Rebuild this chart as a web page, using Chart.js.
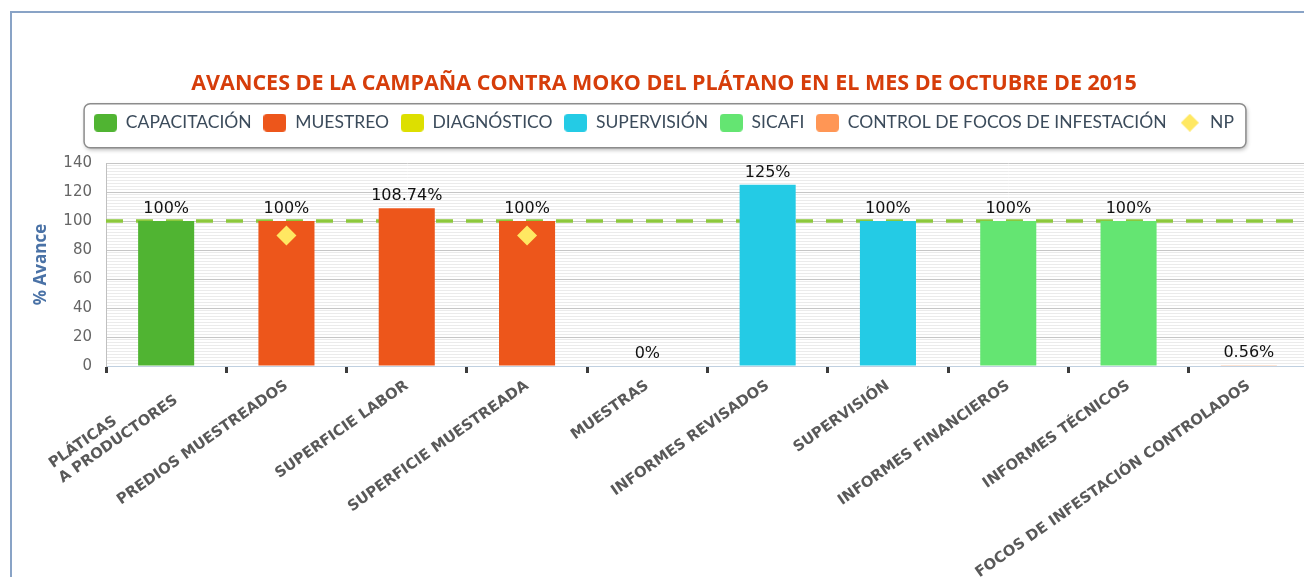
<!DOCTYPE html>
<html lang="es">
<head>
  <meta charset="UTF-8">
  <title>Avances de la campaña contra Moko del plátano</title>
  <script src="https://cdn.jsdelivr.net/npm/chart.js"></script>
  <style>
    html, body { margin: 0; padding: 0; overflow: hidden; background: #fff; }
    #frame { position: absolute; left: 10px; top: 11px; width: 2000px; height: 2000px;
             border-left: 2px solid #89a3c6; border-top: 2px solid #89a3c6; box-sizing: border-box; }
    #wrap { position: absolute; left: 0; top: 0; width: 1328px; height: 577px; }
  </style>
</head>
<body>
  <div id="frame"></div>
  <div id="wrap"><canvas id="avanceChart"></canvas></div>

  <script>
    const categories = [
      ['PLÁTICAS', 'A PRODUCTORES'],
      'PREDIOS MUESTREADOS',
      'SUPERFICIE LABOR',
      'SUPERFICIE MUESTREADA',
      'MUESTRAS',
      'INFORMES REVISADOS',
      'SUPERVISIÓN',
      'INFORMES FINANCIEROS',
      'INFORMES TÉCNICOS',
      'FOCOS DE INFESTACIÓN CONTROLADOS'
    ];

    const capacitacion = [100, null, null, null, null, null, null, null, null, null];
    const muestreo     = [null, 100, 108.74, 100, null, null, null, null, null, null];
    const diagnostico  = [null, null, null, null, 0, null, null, null, null, null];
    const supervision  = [null, null, null, null, null, 125, 100, null, null, null];
    const sicafi       = [null, null, null, null, null, null, null, 100, 100, null];
    const controlFocos = [null, null, null, null, null, null, null, null, null, 0.56];
    const np           = [null, 90, null, 90, null, null, null, null, null, null];
    const meta = 100;

    const seriesNames  = ['CAPACITACIÓN', 'MUESTREO', 'DIAGNÓSTICO', 'SUPERVISIÓN', 'SICAFI', 'CONTROL DE FOCOS DE INFESTACIÓN'];
    const seriesData   = [capacitacion, muestreo, diagnostico, supervision, sicafi, controlFocos];
    const seriesColors = ['#50b432', '#ed561b', '#dddf00', '#24cbe5', '#64e572', '#ff9655'];
    const npColor = '#ffe862';

    const xFont = { family: 'DejaVu Sans', size: 14.8, weight: 'bold' };

    // legend symbols drawn as small canvases so they can be rounded boxes / diamond
    function legendBox(color) {
      const c = document.createElement('canvas');
      c.width = 23; c.height = 18;
      const g = c.getContext('2d');
      g.fillStyle = color;
      g.beginPath();
      g.roundRect(0, 0, 23, 18, 4);
      g.fill();
      return c;
    }
    function legendDiamond(color) {
      const c = document.createElement('canvas');
      c.width = 18; c.height = 18;
      const g = c.getContext('2d');
      g.fillStyle = color;
      g.beginPath();
      g.moveTo(9, 0); g.lineTo(18, 9); g.lineTo(9, 18); g.lineTo(0, 9);
      g.closePath();
      g.fill();
      return c;
    }

    // multi-line category labels are left aligned in the original: pad short lines with spaces
    const measurer = document.createElement('canvas').getContext('2d');
    function leftAlignLines(label) {
      if (!Array.isArray(label)) return label;
      measurer.font = `bold ${xFont.size}px "${xFont.family}"`;
      const widest = Math.max(...label.map(s => measurer.measureText(s).width));
      return label.map(s => {
        let t = s;
        while (measurer.measureText(t + ' ').width <= widest + 1) t += ' ';
        return t;
      });
    }

    const datasets = seriesNames.map((name, i) => ({
      label: name,
      data: seriesData[i],
      backgroundColor: seriesColors[i],
      borderWidth: 0,
      grouped: false,
      categoryPercentage: 1,
      barPercentage: 0.466,
      legendSymbol: legendBox(seriesColors[i])
    }));
    datasets.push({
      type: 'line',
      label: 'NP',
      data: np,
      showLine: false,
      pointStyle: 'rectRot',
      pointRadius: 10,
      pointHoverRadius: 10,
      pointBorderWidth: 0,
      backgroundColor: npColor,
      borderColor: npColor,
      order: -1,
      legendSymbol: legendDiamond(npColor)
    });

    const metaLine = {
      id: 'metaLine',
      beforeDatasetsDraw(chart) {
        const {ctx, chartArea} = chart;
        const y = chart.scales.y.getPixelForValue(meta);
        ctx.save();
        ctx.strokeStyle = '#8cc83c';
        ctx.lineWidth = 3.5;
        ctx.setLineDash([17, 13]);
        ctx.beginPath();
        ctx.moveTo(chartArea.left, y);
        ctx.lineTo(chartArea.right, y);
        ctx.stroke();
        ctx.restore();
      }
    };

    const valueLabels = {
      id: 'valueLabels',
      afterDatasetsDraw(chart) {
        const ctx = chart.ctx;
        ctx.save();
        ctx.font = '16px "DejaVu Sans"';
        ctx.fillStyle = '#111';
        ctx.textAlign = 'center';
        ctx.textBaseline = 'alphabetic';
        chart.data.datasets.forEach((ds, i) => {
          const m = chart.getDatasetMeta(i);
          if (m.type !== 'bar') return;
          m.data.forEach((bar, j) => {
            const v = ds.data[j];
            if (v === null) return;
            ctx.fillText(v + '%', bar.x, bar.y - 8);
          });
        });
        ctx.restore();
      }
    };

    const legendFrame = {
      id: 'legendFrame',
      beforeDraw(chart) {
        const boxes = chart.legend.legendHitBoxes;
        if (!boxes || !boxes.length) return;
        const left = Math.min(...boxes.map(b => b.left)) - 10;
        const right = Math.max(...boxes.map(b => b.left + b.width)) + 12;
        const mid = boxes[0].top + boxes[0].height / 2;
        const ctx = chart.ctx;
        ctx.save();
        ctx.shadowColor = 'rgba(0,0,0,0.3)';
        ctx.shadowBlur = 4;
        ctx.shadowOffsetX = 1;
        ctx.shadowOffsetY = 2;
        ctx.fillStyle = '#fff';
        ctx.strokeStyle = '#8c8c8c';
        ctx.lineWidth = 1.5;
        ctx.beginPath();
        ctx.roundRect(left, mid - 19, right - left, 44, 6);
        ctx.fill();
        ctx.shadowColor = 'transparent';
        ctx.stroke();
        ctx.restore();
      }
    };

    new Chart(document.getElementById('avanceChart'), {
      type: 'bar',
      data: { labels: categories, datasets },
      plugins: [legendFrame, metaLine, valueLabels],
      options: {
        responsive: true,
        maintainAspectRatio: false,
        animation: false,
        layout: { padding: 0 },
        plugins: {
          tooltip: { enabled: false },
          title: {
            display: true,
            text: 'AVANCES DE LA CAMPAÑA CONTRA MOKO DEL PLÁTANO EN EL MES DE OCTUBRE DE 2015',
            color: '#d63d0a',
            font: { family: 'Open Sans', size: 21.5, weight: 'bold' },
            padding: { top: 71, bottom: 5.5 }
          },
          // empty spacer between legend and plot area
          subtitle: {
            display: true,
            text: '',
            weight: 100,
            font: { size: 10, lineHeight: 1 },
            padding: { top: 11.5, bottom: 0 }
          },
          legend: {
            labels: {
              usePointStyle: true,
              pointStyleWidth: 23,
              padding: 11.7,
              color: '#3b4b5b',
              font: { family: 'Lato', size: 17.5 },
              sort: (a, b) => a.datasetIndex - b.datasetIndex,
              generateLabels(chart) {
                const items = Chart.defaults.plugins.legend.labels.generateLabels(chart);
                items.forEach(it => { it.pointStyle = chart.data.datasets[it.datasetIndex].legendSymbol; });
                return items;
              }
            }
          }
        },
        scales: {
          x: {
            grid: { offset: true, drawOnChartArea: false, drawTicks: true, tickLength: 7, tickWidth: 3, tickColor: '#3c3c3c' },
            border: { color: '#c0d0e0' },
            ticks: {
              autoSkip: false, maxRotation: 35, minRotation: 35, padding: 4,
              color: '#595959',
              font: xFont,
              callback(value, index) { return leftAlignLines(categories[index]); }
            },
            afterFit(scale) { scale.height = 211; }
          },
          y: {
            min: 0, max: 140,
            ticks: {
              stepSize: 2, maxTicksLimit: 100, autoSkip: false, padding: 14,
              color: '#666',
              font: { family: 'DejaVu Sans', size: 15 },
              callback: v => (v % 20 === 0 ? v : '')
            },
            grid: {
              drawTicks: false,
              color: c => (c.tick && c.tick.value % 20 === 0 ? '#c6c6c6' : '#ebebeb')
            },
            border: { color: '#c0c0c0' },
            title: {
              display: true, text: '% Avance', color: '#4a72a6',
              font: { family: 'Open Sans', size: 17, weight: 'bold' },
              padding: { top: 30.5 }
            },
            afterFit(scale) { scale.width = 106; }
          },
          rightPad: {
            position: 'right',
            grid: { display: false },
            ticks: { display: false },
            border: { display: false },
            afterFit(scale) { scale.width = 19; }
          }
        }
      }
    });
  </script>
</body>
</html>
